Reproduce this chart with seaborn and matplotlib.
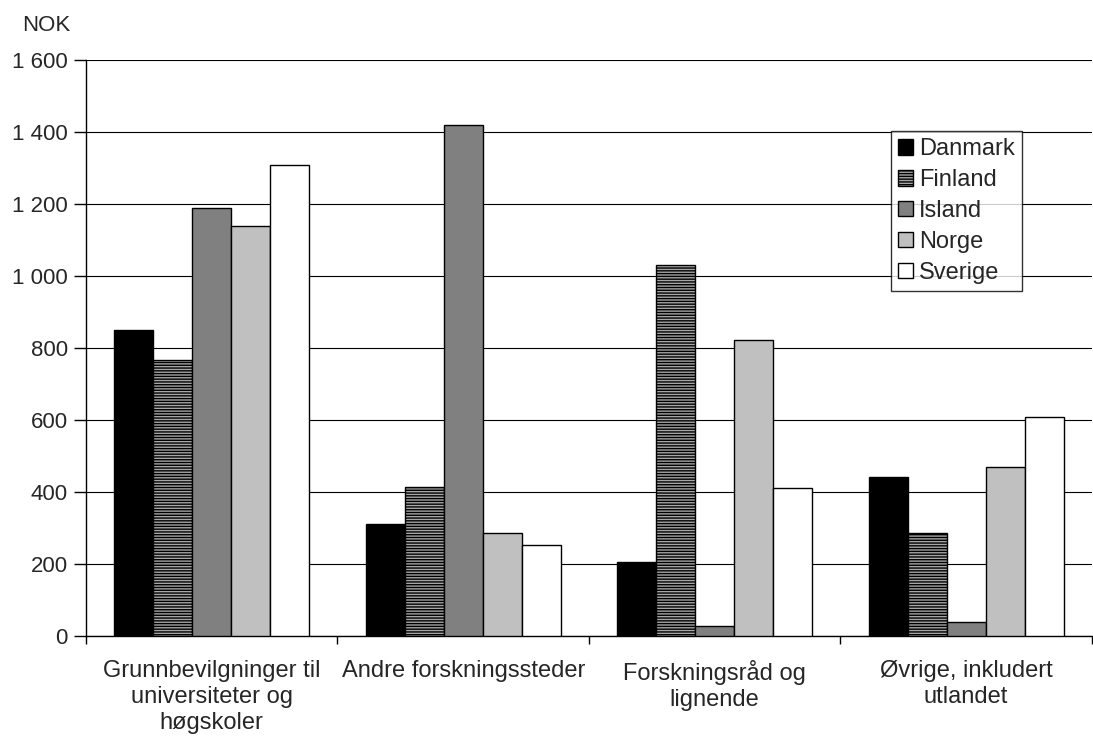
import pandas as pd
import numpy as np
import seaborn as sns
import matplotlib.pyplot as plt
from matplotlib.patches import Patch

# data (NOK)
categories = ['Grunnbevilgninger til\nuniversiteter og\nhøgskoler',
              'Andre forskningssteder',
              'Forskningsråd og\nlignende',
              'Øvrige, inkludert\nutlandet']
countries = ['Danmark', 'Finland', 'Island', 'Norge', 'Sverige']
danmark = [850, 310, 207, 443]
finland = [768, 413, 1031, 285]
island = [1190, 1420, 27, 40]
norge = [1140, 285, 821, 470]
sverige = [1308, 252, 411, 608]
yticks = [0, 200, 400, 600, 800, 1000, 1200, 1400, 1600]

series = [danmark, finland, island, norge, sverige]
rows = []
for country, vals in zip(countries, series):
    for cat, v in zip(categories, vals):
        rows.append({'Kategori': cat, 'Land': country, 'NOK': v})
df = pd.DataFrame(rows)

colors = ['#000000', '#a6a6a6', '#808080', '#c0c0c0', '#ffffff']

sns.set_style('white')
plt.rcParams['font.family'] = ['Liberation Sans', 'DejaVu Sans']
plt.rcParams['hatch.color'] = '#404040'
plt.rcParams['hatch.linewidth'] = 1.0

fig = plt.figure(figsize=(10.93, 7.40), dpi=100)
ax = fig.add_axes([0.0787, 0.1405, 0.9203, 0.7784])

sns.barplot(data=df, x='Kategori', y='NOK', hue='Land', hue_order=countries,
            palette=colors, width=0.775, gap=0, edgecolor='black',
            linewidth=1.0, saturation=1, legend=False, ax=ax, zorder=3)

# Finland bars get horizontal stripes
for patch in ax.containers[1]:
    patch.set_hatch('------')

ax.set_ylim(0, 1600)
ax.set_xlim(-0.5, 3.5)
ax.set_yticks(yticks)
ax.set_yticklabels([f'{v:,}'.replace(',', ' ') for v in yticks], fontsize=16)
ax.yaxis.grid(True, color='black', linewidth=0.8, zorder=0)
ax.set_axisbelow(True)

ax.set_xticks(range(len(categories)))
ax.set_xticklabels(categories, fontsize=17, linespacing=1.25)
ax.set_xticks([-0.5, 0.5, 1.5, 2.5, 3.5], minor=True)
ax.tick_params(axis='x', which='major', length=0, pad=17)
ax.tick_params(axis='x', which='minor', length=6, width=1, color='black', direction='out', bottom=True)
ax.tick_params(axis='y', length=9, width=1, color='black', direction='out', left=True, pad=4)

ax.set_xlabel('')
ax.set_ylabel('')
for side in ['top', 'right']:
    ax.spines[side].set_visible(False)
for side in ['left', 'bottom']:
    ax.spines[side].set_color('black')
    ax.spines[side].set_linewidth(1.0)

handles = [Patch(facecolor=c, edgecolor='black', linewidth=1.0,
                 hatch='------' if n == 'Finland' else None)
           for c, n in zip(colors, countries)]
leg = ax.legend(handles, countries, loc='upper left', bbox_to_anchor=(0.8, 0.877),
                fontsize=17, frameon=True, fancybox=False, edgecolor='black',
                handlelength=0.65, handleheight=0.65, handletextpad=0.25,
                labelspacing=0.38, borderpad=0.3, borderaxespad=0)
leg.get_frame().set_linewidth(1.0)
leg.set_zorder(5)

fig.text(0.042, 0.966, 'NOK', fontsize=16, ha='center', va='center')

fig.savefig('out.png', dpi=100)
